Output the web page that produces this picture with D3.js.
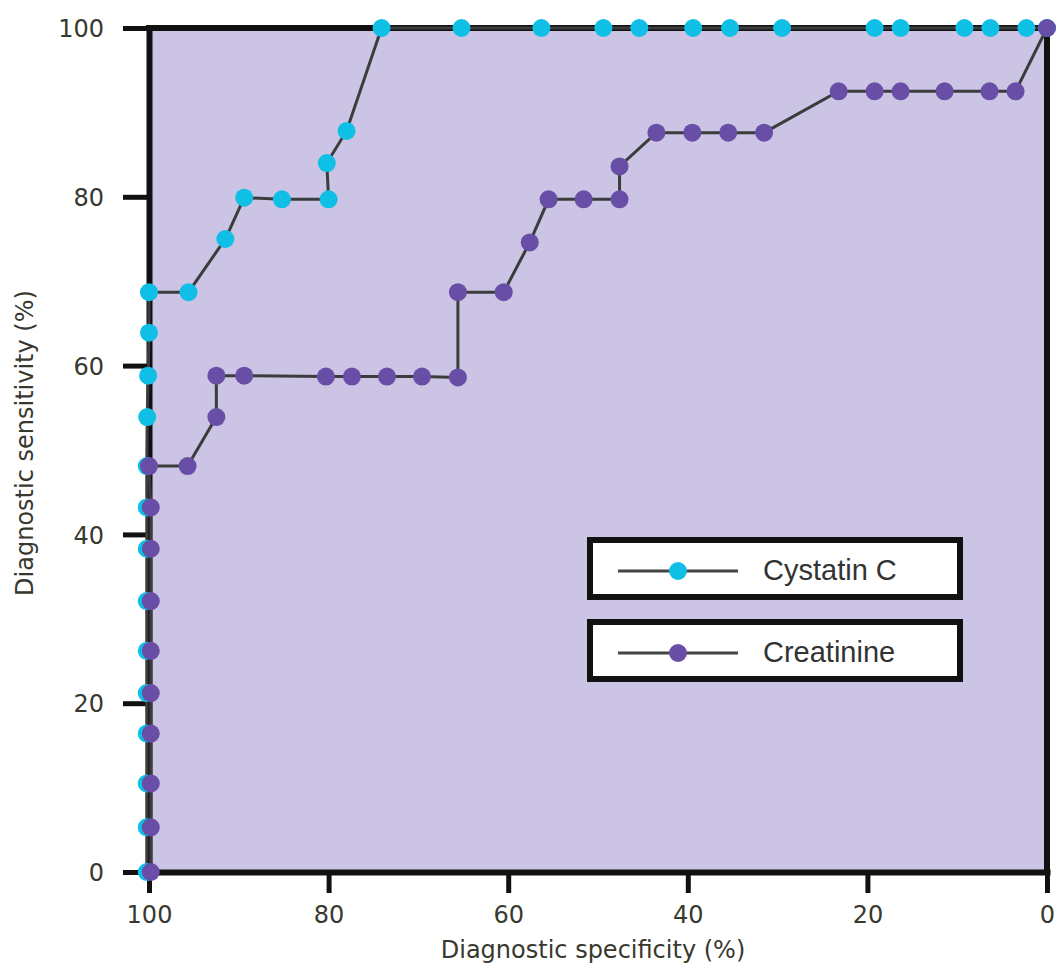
<!DOCTYPE html>
<html>
<head>
<meta charset="utf-8">
<script src="https://cdn.jsdelivr.net/npm/d3@7"></script>
<style>
  html, body { margin: 0; padding: 0; background: #ffffff; }
  svg { display: block; }
</style>
</head>
<body>
<svg id="chart" width="1059" height="963"></svg>
<script>
// ---- data ----
const specTicks = [100, 80, 60, 40, 20, 0];
const sensTicks = [0, 20, 40, 60, 80, 100];

const seriesNames = ["Cystatin C", "Creatinine"];

const cystatinSpec = [100.25,100.25,100.25,100.25,100.25,100.25,100.25,100.25,100.25,100.25,100.2,100.1,100,100,
  95.6, 91.5, 89.4, 85.2, 80.0, 80.2, 78.0, 74.1, 65.2, 56.3, 49.4, 45.4, 39.4, 35.3, 29.5, 19.2, 16.3, 9.2, 6.3, 2.3, 0];
const cystatinSens = [0, 5.3, 10.5, 16.4, 21.2, 26.2, 32.1, 38.3, 43.2, 48.1, 53.9, 58.8, 63.9, 68.7,
  68.7, 75.0, 79.9, 79.7, 79.7, 84.0, 87.8, 100, 100, 100, 100, 100, 100, 100, 100, 100, 100, 100, 100, 100, 100];

const creatinineSpec = [99.8, 99.8, 99.8, 99.8, 99.8, 99.8, 99.8, 99.8, 99.8, 100,
  95.7, 92.5, 92.5, 89.4, 80.3, 77.4, 73.5, 69.6, 65.6, 65.6, 60.5, 57.6, 55.5, 51.6, 47.6, 47.6,
  43.5, 39.5, 35.5, 31.5, 23.2, 19.2, 16.3, 11.4, 6.4, 3.5, 0];
const creatinineSens = [0, 5.3, 10.5, 16.4, 21.2, 26.2, 32.1, 38.3, 43.2, 48.1,
  48.1, 53.9, 58.8, 58.8, 58.7, 58.7, 58.7, 58.7, 58.6, 68.7, 68.7, 74.6, 79.7, 79.7, 79.7, 83.6,
  87.6, 87.6, 87.6, 87.6, 92.5, 92.5, 92.5, 92.5, 92.5, 92.5, 100];

const xTitle = "Diagnostic specificity (%)";
const yTitle = "Diagnostic sensitivity (%)";

// ---- styles ----
const colors = { "Cystatin C": "#10bfe6", "Creatinine": "#684ea6" };
const bg = "#cbc4e4";
const lineColor = "#3c3c3c";
const textColor = "#38382f";

const svg = d3.select("#chart");

const x = d3.scaleLinear().domain([100, 0]).range([149, 1047]);
const y = d3.scaleLinear().domain([0, 100]).range([872, 28]);

// plot background
svg.append("rect")
  .attr("x", x(100)).attr("y", y(100))
  .attr("width", x(0) - x(100)).attr("height", y(0) - y(100))
  .attr("fill", bg);

// frame (top & right)
svg.append("path")
  .attr("d", `M${x(100)},${y(100)}H${x(0)}V${y(0)}`)
  .attr("fill", "none").attr("stroke", "#111").attr("stroke-width", 6)
  .attr("stroke-linecap", "square");

// x axis
const gx = svg.append("g").attr("transform", `translate(0,${y(0)})`)
  .call(d3.axisBottom(x).tickValues(specTicks).tickSize(21).tickSizeOuter(0).tickFormat(d3.format("d")));
gx.select(".domain").attr("stroke", "#111").attr("stroke-width", 6).attr("stroke-linecap", "square");
gx.selectAll(".tick line").attr("stroke", "#111").attr("stroke-width", 5);
gx.selectAll(".tick text")
  .attr("y", 51).attr("dy", null)
  .attr("fill", textColor)
  .style("font-family", "'DejaVu Sans', sans-serif").style("font-size", "24px");

// y axis
const gy = svg.append("g").attr("transform", `translate(${x(100)},0)`)
  .call(d3.axisLeft(y).tickValues(sensTicks).tickSize(26).tickSizeOuter(0).tickFormat(d3.format("d")));
gy.select(".domain").attr("stroke", "#111").attr("stroke-width", 6).attr("stroke-linecap", "square");
gy.selectAll(".tick line").attr("stroke", "#111").attr("stroke-width", 5);
gy.selectAll(".tick text")
  .attr("x", -45).attr("dy", "0.36em")
  .attr("fill", textColor)
  .style("font-family", "'DejaVu Sans', sans-serif").style("font-size", "24px");

// extend left axis down to x tick (covered by x=100 tick already)

// axis titles
svg.append("text")
  .attr("x", 593).attr("y", 958)
  .attr("text-anchor", "middle")
  .attr("fill", textColor)
  .style("font-family", "'DejaVu Sans', sans-serif").style("font-size", "24px")
  .text(xTitle);

svg.append("text")
  .attr("transform", "translate(33,443) rotate(-90)")
  .attr("text-anchor", "middle")
  .attr("fill", textColor)
  .style("font-family", "'DejaVu Sans', sans-serif").style("font-size", "24px")
  .text(yTitle);

// series
const series = [
  { name: seriesNames[0], pts: cystatinSpec.map((s, i) => [s, cystatinSens[i]]) },
  { name: seriesNames[1], pts: creatinineSpec.map((s, i) => [s, creatinineSens[i]]) }
];

const line = d3.line().x(d => x(d[0])).y(d => y(d[1]));

series.forEach(s => {
  const g = svg.append("g");
  g.append("path")
    .attr("d", line(s.pts))
    .attr("fill", "none")
    .attr("stroke", lineColor)
    .attr("stroke-width", 3);
  g.selectAll("circle").data(s.pts).join("circle")
    .attr("cx", d => x(d[0])).attr("cy", d => y(d[1]))
    .attr("r", 9)
    .attr("fill", colors[s.name]);
});

// legend
const legend = svg.append("g");
const legendTop = [540, 622];
seriesNames.forEach((name, i) => {
  const g = legend.append("g").attr("transform", `translate(590,${legendTop[i]})`);
  g.append("rect")
    .attr("x", 0).attr("y", 0).attr("width", 370).attr("height", 57)
    .attr("fill", "#ffffff").attr("stroke", "#111").attr("stroke-width", 6);
  g.append("line")
    .attr("x1", 28).attr("x2", 148).attr("y1", 31).attr("y2", 31)
    .attr("stroke", "#444").attr("stroke-width", 3);
  g.append("circle")
    .attr("cx", 88).attr("cy", 31).attr("r", 9)
    .attr("fill", colors[name]);
  g.append("text")
    .attr("x", 173).attr("y", 40)
    .attr("fill", "#333")
    .style("font-family", "'Liberation Sans', Arial, sans-serif").style("font-size", "29px")
    .text(name);
});
</script>
</body>
</html>
